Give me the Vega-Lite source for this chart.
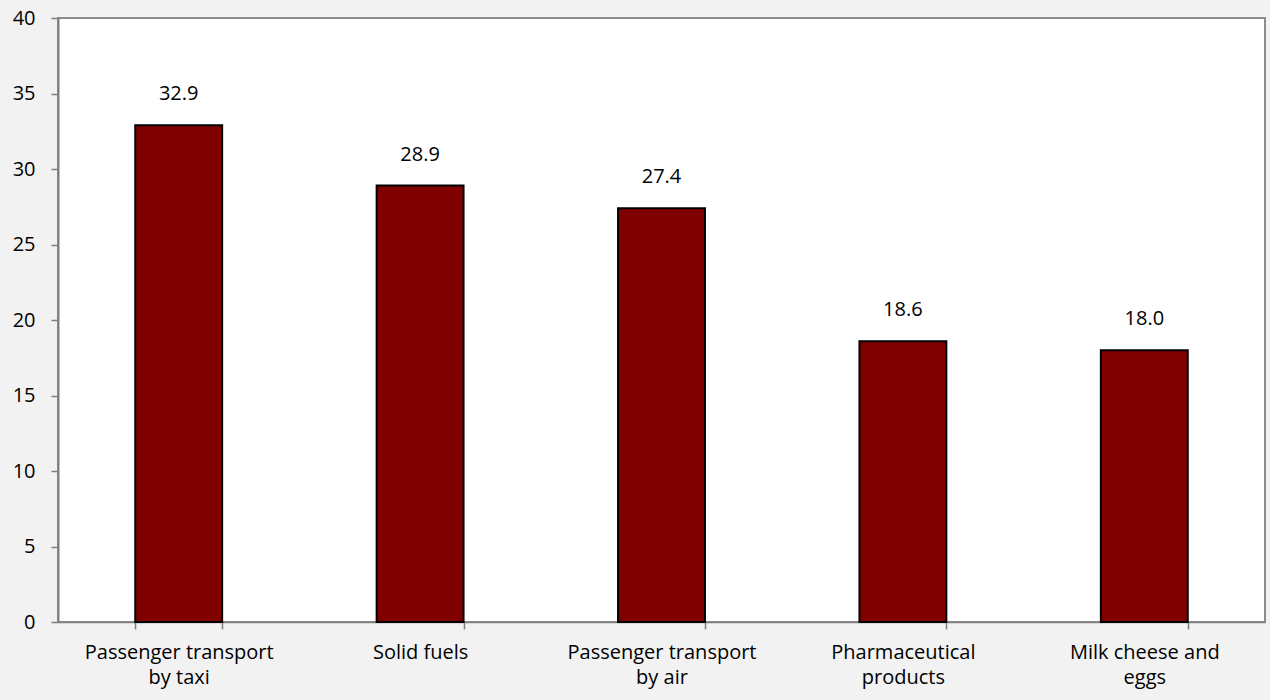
{
  "$schema": "https://vega.github.io/schema/vega-lite/v6.json",
  "width": 1207,
  "height": 604,
  "autosize": "none",
  "padding": {"left": 58, "top": 18, "right": 5, "bottom": 78},
  "background": "#f2f2f2",
  "config": {
    "view": {"fill": "#ffffff", "stroke": "#8c8c8c", "strokeWidth": 2},
    "font": "Open Sans"
  },
  "data": {
    "values": [
      {"category": "Passenger transport\nby taxi", "value": 32.9},
      {"category": "Solid fuels", "value": 28.9},
      {"category": "Passenger transport\nby air", "value": 27.4},
      {"category": "Pharmaceutical\nproducts", "value": 18.6},
      {"category": "Milk cheese and\neggs", "value": 18.0}
    ]
  },
  "encoding": {
    "x": {
      "field": "category",
      "type": "nominal",
      "sort": null,
      "scale": {"paddingInner": 0.64, "paddingOuter": 0.32},
      "axis": {
        "title": null,
        "labelAngle": 0,
        "labelExpr": "split(datum.label, '\\n')",
        "labelFontSize": 20,
        "labelColor": "#000000",
        "labelLineHeight": 25,
        "labelPadding": 13,
        "tickBand": "extent",
        "tickSize": 7,
        "tickColor": "#7f7f7f",
        "tickWidth": 1.5,
        "domainColor": "#7f7f7f",
        "domainWidth": 1.5,
        "labelLimit": 300
      }
    },
    "y": {
      "field": "value",
      "type": "quantitative",
      "scale": {"domain": [0, 40]},
      "axis": {
        "title": null,
        "values": [0, 5, 10, 15, 20, 25, 30, 35, 40],
        "grid": false,
        "labelFontSize": 20,
        "labelColor": "#000000",
        "labelPadding": 16,
        "tickSize": 7,
        "tickColor": "#7f7f7f",
        "tickWidth": 1.5,
        "domainColor": "#7f7f7f",
        "domainWidth": 2
      }
    }
  },
  "layer": [
    {
      "mark": {"type": "bar", "color": "#800000", "stroke": "#000000", "strokeWidth": 2}
    },
    {
      "mark": {"type": "text", "dy": -31, "fontSize": 20, "color": "#000000"},
      "encoding": {
        "text": {"field": "value", "type": "quantitative", "format": ".1f"}
      }
    }
  ]
}
